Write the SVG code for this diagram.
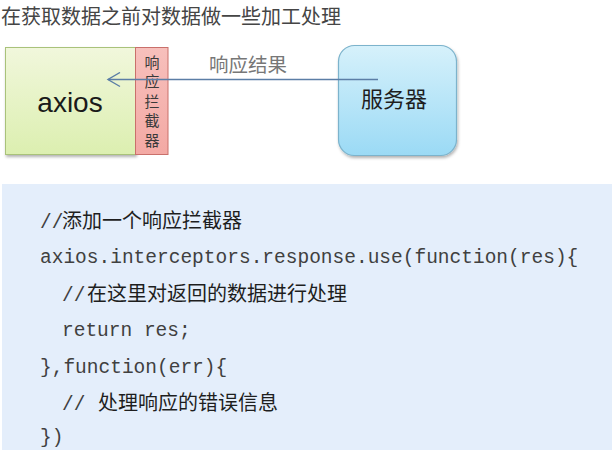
<svg xmlns="http://www.w3.org/2000/svg" width="612" height="450" viewBox="0 0 612 450">
  <style>
    .cjk { font-family: "Noto Sans CJK SC", "Noto Sans", sans-serif; }
    .mono { font-family: "Liberation Mono", "Noto Sans CJK SC", monospace; font-size: 19.5px; fill: #404040; }
    .cc { font-family: "Noto Sans CJK SC", sans-serif; font-size: 20px; fill: #1e1e1e; }
    .strip { font-family: "Noto Sans CJK SC", sans-serif; font-size: 15px; fill: #3a3a3a; text-anchor: middle; }
  </style>
  <defs>
    <linearGradient id="gGreen" x1="0" y1="0" x2="0" y2="1">
      <stop offset="0" stop-color="#f1f7dc"/>
      <stop offset="1" stop-color="#dcefb0"/>
    </linearGradient>
    <linearGradient id="gRed" x1="0" y1="0" x2="0" y2="1">
      <stop offset="0" stop-color="#f7c0bc"/>
      <stop offset="1" stop-color="#f3a9a4"/>
    </linearGradient>
    <linearGradient id="gBlue" x1="0" y1="0" x2="0" y2="1">
      <stop offset="0" stop-color="#d6f1fb"/>
      <stop offset="1" stop-color="#9bdaf5"/>
    </linearGradient>
    <filter id="shadow" x="-10%" y="-10%" width="125%" height="125%">
      <feDropShadow dx="1" dy="2" stdDeviation="1.6" flood-color="#000" flood-opacity="0.3"/>
    </filter>
    <marker id="openArrow" markerWidth="16" markerHeight="16" refX="13" refY="8" orient="auto" markerUnits="userSpaceOnUse">
      <path d="M1,1 L13,8 L1,15" fill="none" stroke="#5b7ea6" stroke-width="1.4"/>
    </marker>
  </defs>

  <rect width="612" height="450" fill="#ffffff"/>

  <g id="title">
    <text class="cjk" x="1" y="23.5" font-size="20" fill="#454545">在获取数据之前对数据做一些加工处理</text>
  </g>

  <g id="axios">
    <rect x="5.5" y="47.5" width="130" height="107" fill="url(#gGreen)" stroke="#a9c27a" stroke-width="1" filter="url(#shadow)"/>
    <text x="70" y="112" font-family="Liberation Sans, Arial, sans-serif" font-size="28" fill="#1a1a1a" text-anchor="middle">axios</text>
  </g>

  <g id="interceptor">
    <rect x="135.5" y="47.5" width="32.5" height="107" fill="url(#gRed)" stroke="#c9706b" stroke-width="1"/>
    <text class="strip" x="152" y="67.5">响</text>
    <text class="strip" x="152" y="87">应</text>
    <text class="strip" x="152" y="106.5">拦</text>
    <text class="strip" x="152" y="126">截</text>
    <text class="strip" x="152" y="145.5">器</text>
  </g>

  <g id="server">
    <rect x="338.5" y="45.5" width="118" height="110" rx="16" ry="16" fill="url(#gBlue)" stroke="#7cb3cc" stroke-width="1.2" filter="url(#shadow)"/>
    <text class="cjk" x="394" y="106.5" font-size="22" fill="#1e1e1e" text-anchor="middle">服务器</text>
  </g>

  <g id="connectors">
    <line x1="378" y1="79.5" x2="108" y2="79.5" stroke="#5b7ea6" stroke-width="1.4" marker-end="url(#openArrow)"/>
    <text class="cjk" x="209" y="72" font-size="19.5" fill="#777777">响应结果</text>
  </g>

  <g id="code">
    <rect x="2" y="184" width="612" height="268" fill="#e4eefb"/>
    <text class="mono" x="40" y="228">//<tspan class="cc" x="62">添加一个响应拦截器</tspan></text>
    <text class="mono" x="40" y="263">axios.interceptors.response.use(function(res){</text>
    <text class="mono" x="62" y="301">//<tspan class="cc" x="87">在这里对返回的数据进行处理</tspan></text>
    <text class="mono" x="62" y="336">return res;</text>
    <text class="mono" x="40" y="373">},function(err){</text>
    <text class="mono" x="62" y="410">// <tspan class="cc" x="98">处理响应的错误信息</tspan></text>
    <text class="mono" x="40" y="443">})</text>
  </g>
</svg>
